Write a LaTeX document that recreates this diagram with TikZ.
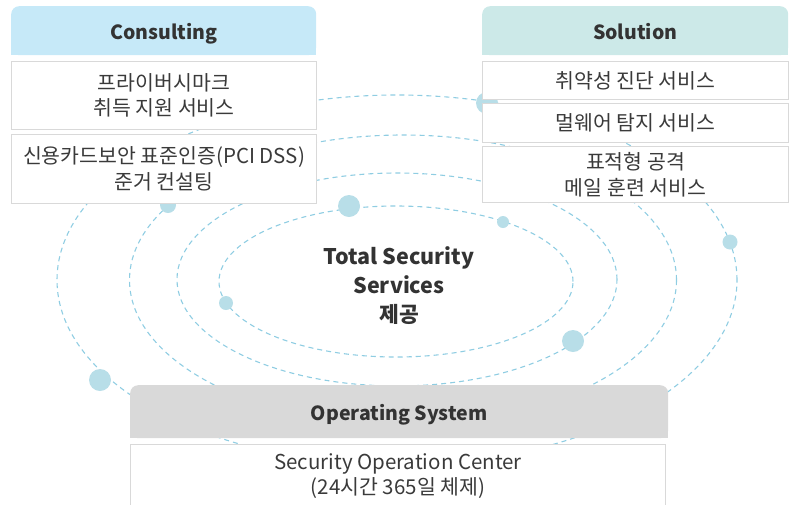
\documentclass[tikz,border=0pt]{standalone}
\usepackage{fontspec}
\setmainfont{Noto Sans CJK KR}
\definecolor{orbitc}{HTML}{8FCDE2}
\definecolor{dotc}{HTML}{B8DEE8}
\definecolor{boxc}{HTML}{D9D9D9}
\definecolor{txt}{HTML}{3A3A3A}
\definecolor{hdrtxt}{HTML}{333333}
\definecolor{conc}{HTML}{C6E9F8}
\definecolor{solc}{HTML}{CCE9E8}
\definecolor{opc}{HTML}{D9D9D9}
\begin{document}
\begin{tikzpicture}[x=1pt,y=-1pt,
  orbit/.style={draw=orbitc, line width=1.1pt, dash pattern=on 5pt off 4pt},
  dot/.style={circle, fill=dotc, inner sep=0pt},
  box/.style={draw=boxc, fill=white, line width=1pt, inner sep=0pt, align=center,
    anchor=north west, text=txt, font=\fontsize{20.5}{25.5}\selectfont},
  hdr/.style={rounded corners=8pt, inner sep=0pt, anchor=north west, text=hdrtxt,
    text height=17pt, text depth=0pt,
    font=\fontsize{19.5}{22}\selectfont\bfseries}]
\useasboundingbox (0,0) rectangle (795,504);
% orbits
\draw[orbit] (396,281.5) ellipse [x radius=177pt, y radius=75.5pt];
\draw[orbit] (397,279.5) ellipse [x radius=220pt, y radius=106.5pt];
\draw[orbit] (403,280) ellipse [x radius=273.5pt, y radius=145pt];
\draw[orbit] (397,280) ellipse [x radius=340pt, y radius=185pt];
% dots
\node[dot, minimum size=22pt] (d1) at (487,103) {};
\node[dot, minimum size=16pt] (d2) at (168,205) {};
\node[dot, minimum size=22pt] (d3) at (349,206) {};
\node[dot, minimum size=12pt] (d4) at (503,222) {};
\node[dot, minimum size=14pt] (d5) at (226,303) {};
\node[dot, minimum size=22pt] (d6) at (573,341) {};
\node[dot, minimum size=22pt] (d7) at (100,380) {};
\node[dot, minimum size=15pt] (d8) at (730,242) {};
% center
\node[align=center, text=hdrtxt, font=\fontsize{21.5}{29}\selectfont\bfseries] (ctr) at (399,286) {Total Security\\Services\\제공};
% Consulting
\node[hdr, fill=conc, minimum width=305pt, minimum height=49pt] (conh) at (11,6) {Consulting};
\fill[conc] (conh.south west) rectangle ([yshift=9pt]conh.south east);
\node[box, minimum width=305pt, minimum height=68pt] (c1) at (11,61) {프라이버시마크\\취득 지원 서비스};
\node[box, minimum width=305pt, minimum height=69pt] (c2) at (11,134) {신용카드보안 표준인증(PCI DSS)\\준거 컨설팅};
% Solution
\node[hdr, fill=solc, minimum width=306pt, minimum height=49pt] (solh) at (482,6) {Solution};
\fill[solc] (solh.south west) rectangle ([yshift=9pt]solh.south east);
\node[box, minimum width=306pt, minimum height=38pt] (s1) at (482,61) {취약성 진단 서비스};
\node[box, minimum width=306pt, minimum height=39pt] (s2) at (482,103) {멀웨어 탐지 서비스};
\node[box, minimum width=306pt, minimum height=56pt] (s3) at (482,146) {표적형 공격\\메일 훈련 서비스};
% Operating System
\node[hdr, fill=opc, minimum width=538pt, minimum height=53pt] (oph) at (130,385) {Operating System};
\fill[opc] (oph.south west) rectangle ([yshift=9pt]oph.south east);
\node[box, minimum width=535pt, minimum height=63pt] (o1) at (130,444) {Security Operation Center\\(24시간 365일 체제)};
\end{tikzpicture}
\end{document}
